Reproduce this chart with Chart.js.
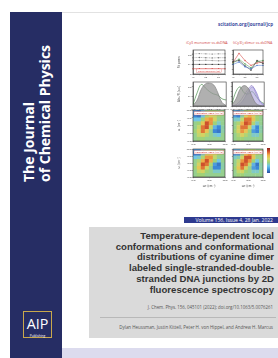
<!DOCTYPE html>
<html>
<head>
<meta charset="utf-8">
<script src="https://cdn.jsdelivr.net/npm/chart.js@4.4.1/dist/chart.umd.min.js"></script>
<style>
html, body { margin: 0; padding: 0; background: #fff; width: 278px; height: 358px; overflow: hidden; font-family: "Open Sans", Lato, sans-serif; }
.abs { position: absolute; }
.nw { white-space: nowrap; }
#topline { left: 10px; top: 12px; width: 268px; height: 1px; background: #e2e2e2; }
#band { left: 10px; top: 12px; width: 52px; height: 346px; background: #262d64; }
#jtitle { left: 21px; top: 182px; transform-origin: 0 0; transform: rotate(-90deg); color: #fff; font-weight: 700; font-size: 14px; line-height: 16px; }
#logo { left: 23px; top: 311px; width: 27px; height: 25px; border: 1px solid #c8a84c; background: #262d64; color: #fff; text-align: center; }
#logo .a { display: inline-block; font-size: 13px; line-height: 12px; margin-top: 6px; font-weight: 400; }
#logo .p { display: block; font-size: 3.2px; line-height: 4px; }
#strip { left: 62px; top: 348px; width: 216px; height: 10px; background: #dcdbee; }
#site { right: 5px; top: 21px; color: #3e4c9e; font-weight: 700; font-size: 6px; }
#gbox { left: 89px; top: 227px; width: 189px; height: 111px; background: #dadada; }
#vol { left: 184px; top: 217px; width: 94px; height: 6px; background: #2e3a8f; }
#voltxt { right: 5px; top: 217px; color: #fff; font-size: 4px; line-height: 6px; }
#title { right: 4px; top: 231px; text-align: right; color: #333; font-family: "Liberation Sans", Arial, sans-serif; font-weight: 700; font-size: 9.5px; line-height: 10.7px; }
#title span { display: inline-block; white-space: nowrap; height: 10.7px; }
#cite { right: 5px; top: 305px; color: #555; font-size: 4px; line-height: 5px; }
#sep { left: 100px; top: 317px; width: 176px; height: 1px; background: #b8b8b8; }
#auth { right: 5px; top: 325px; color: #555; font-size: 4px; line-height: 5px; }
.hd { top: 41px; color: #d04545; font-size: 3.6px; line-height: 4px; }
#cbar { left: 267px; top: 148px; width: 3px; height: 25px; background: linear-gradient(#8a1c1c, #d8552e, #f0b048, #d8d864, #9fd27a, #6cc6e8, #3c8fd8, #2b4fa0); }
canvas { position: absolute; }
canvas.hm { filter: blur(0.45px); }
</style>
</head>
<body>
<div id="topline" class="abs"></div>
<div id="band" class="abs"></div>
<div id="jtitle" class="abs nw"><span id="jt1">The Journal</span><br><span id="jt2">of Chemical Physics</span></div>
<div id="logo" class="abs"><span class="a" id="aip">AIP</span><span class="p">Publishing</span></div>
<div id="strip" class="abs"></div>
<div id="site" class="abs nw">scitation.org/journal/jcp</div>

<div class="abs nw hd" id="hd1" style="left:186px">iCy3 monomer ss-dsDNA</div>
<div class="abs nw hd" id="hd2" style="left:233px">(iCy3)₂ dimer ss-dsDNA</div>
<div id="cbar" class="abs"></div>

<div id="gbox" class="abs"></div>
<div id="vol" class="abs"></div>
<div id="voltxt" class="abs nw">Volume 156, Issue 4, 28 Jan. 2022</div>
<div id="title" class="abs">
  <span>Temperature-dependent local</span><br>
  <span id="tl2">conformations and conformational</span><br>
  <span>distributions of cyanine dimer</span><br>
  <span>labeled single-stranded-double-</span><br>
  <span>stranded DNA junctions by 2D</span><br>
  <span>fluorescence spectroscopy</span>
</div>
<div id="cite" class="abs nw">J. Chem. Phys. 156, 045101 (2022); doi.org/10.1063/5.0076261</div>
<div id="sep" class="abs"></div>
<div id="auth" class="abs nw">Dylan Heussman, Justin Kittell, Peter H. von Hippel, and Andrew H. Marcus</div>

<canvas id="c1" width="52" height="33" style="left:177px;top:46px"></canvas>
<canvas id="c2" width="38" height="33" style="left:229px;top:46px"></canvas>
<canvas id="c3" width="52" height="30" style="left:177px;top:80px"></canvas>
<canvas id="c4" width="38" height="30" style="left:229px;top:80px"></canvas>
<canvas id="c5" class="hm" width="52" height="39" style="left:177px;top:106px"></canvas>
<canvas id="c6" class="hm" width="38" height="39" style="left:229px;top:106px"></canvas>
<canvas id="c7" class="hm" width="52" height="43" style="left:177px;top:145px"></canvas>
<canvas id="c8" class="hm" width="38" height="43" style="left:229px;top:145px"></canvas>

<script>
// temperature axis of the top panels (°C)
const tempC = [15, 25, 35, 45, 55, 65];
// monomer fit parameters (normalised)
const monoA = [0.84, 0.85, 0.84, 0.83, 0.84, 0.84];
const monoB = [0.68, 0.69, 0.68, 0.67, 0.68, 0.68];
const monoC = [0.56, 0.56, 0.57, 0.56, 0.55, 0.56];
const monoD = [0.40, 0.40, 0.40, 0.40, 0.40, 0.40];
const monoLE = [0.22, 0.22, 0.22, 0.22, 0.22, 0.22];
// dimer fit parameters
const dimRed = [0.48, 0.86, 0.56, 0.36, 0.46, 0.50];
const dimGreen = [0.46, 0.62, 0.42, 0.26, 0.52, 0.56];
const dimDark = [0.52, 0.56, 0.34, 0.16, 0.56, 0.44];
const dimBlue = [0.40, 0.50, 0.30, 0.22, 0.36, 0.36];

// wavenumber axis of the spectra (10^3 cm-1)
const waveK = [16.5, 17.0, 17.5, 18.0, 18.5, 19.0, 19.5, 20.0, 20.5];
const monoAbs = [0.02, 0.25, 0.70, 0.92, 0.95, 0.88, 0.55, 0.15, 0.02];
const monoFl = [0.05, 0.55, 0.90, 0.75, 0.60, 0.50, 0.45, 0.30, 0.25];
const dimAbs = [0.05, 0.30, 0.70, 0.85, 0.75, 0.40, 0.10, 0.02, 0.00];
const dimLaser = [0.00, 0.00, 0.10, 0.30, 0.60, 0.80, 0.60, 0.20, 0.05];
const dimFl = [0.10, 0.60, 0.80, 0.55, 0.50, 0.60, 0.40, 0.20, 0.10];
const dimPurple = [0.00, 0.05, 0.20, 0.45, 0.70, 0.85, 0.50, 0.15, 0.02];

// 2D spectra grid (10^3 cm-1), rows listed top to bottom
const wTau = [17.0, 17.5, 18.0, 18.5, 19.0, 19.5, 20.0, 20.5];
const wT = [20.5, 20.0, 19.5, 19.0, 18.5, 18.0, 17.5, 17.0];
const mapNames = ['Absorptive 2DFS (15 °C)', 'Absorptive 2DFS (15 °C)', 'Absorptive 2DFS (45 °C)', 'Absorptive 2DFS (45 °C)'];
const mapMono15 = [
  [-0.5, -0.6, -0.3, 0.0, 0.1, 0.1, 0.0, 0.0],
  [-0.6, -0.7, -0.3, 0.2, 0.4, 0.3, 0.1, 0.0],
  [-0.3, -0.3, 0.1, 0.6, 0.7, 0.4, 0.0, 0.0],
  [0.0, 0.1, 0.5, 0.9, 0.7, 0.1, -0.2, 0.0],
  [0.0, 0.3, 0.8, 0.9, 0.3, -0.4, -0.6, -0.1],
  [0.1, 0.4, 0.8, 0.5, 0.0, -0.6, -0.7, -0.1],
  [0.0, 0.3, 0.4, 0.2, 0.0, -0.2, -0.3, 0.0],
  [0.0, 0.1, 0.1, 0.0, 0.0, 0.0, 0.0, 0.0]
];
const mapDim15 = [
  [-0.4, -0.5, -0.2, 0.1, 0.2, 0.1, 0.0, 0.0],
  [-0.5, -0.6, -0.1, 0.4, 0.6, 0.4, 0.1, 0.0],
  [-0.2, -0.2, 0.3, 0.8, 0.8, 0.5, 0.1, 0.0],
  [0.0, 0.2, 0.6, 0.9, 0.8, 0.2, -0.2, 0.0],
  [0.0, 0.4, 0.8, 0.8, 0.4, -0.3, -0.6, -0.1],
  [0.1, 0.4, 0.7, 0.5, 0.1, -0.5, -0.6, -0.1],
  [0.0, 0.2, 0.4, 0.2, 0.0, -0.2, -0.2, 0.0],
  [0.0, 0.1, 0.1, 0.0, 0.0, 0.0, 0.0, 0.0]
];
const mapMono45 = [
  [-0.5, -0.5, -0.2, 0.0, 0.1, 0.1, 0.0, 0.0],
  [-0.6, -0.6, -0.2, 0.3, 0.4, 0.3, 0.1, 0.0],
  [-0.3, -0.2, 0.2, 0.7, 0.7, 0.3, 0.0, 0.0],
  [0.0, 0.2, 0.6, 0.9, 0.6, 0.1, -0.3, 0.0],
  [0.0, 0.4, 0.9, 0.8, 0.2, -0.5, -0.7, -0.1],
  [0.1, 0.5, 0.8, 0.4, 0.0, -0.6, -0.6, -0.1],
  [0.0, 0.3, 0.4, 0.1, 0.0, -0.2, -0.2, 0.0],
  [0.0, 0.1, 0.1, 0.0, 0.0, 0.0, 0.0, 0.0]
];
const mapDim45 = [
  [-0.4, -0.4, -0.1, 0.1, 0.2, 0.2, 0.0, 0.0],
  [-0.5, -0.5, 0.0, 0.5, 0.7, 0.4, 0.1, 0.0],
  [-0.2, -0.1, 0.4, 0.9, 0.9, 0.5, 0.0, 0.0],
  [0.0, 0.3, 0.7, 0.9, 0.7, 0.1, -0.3, 0.0],
  [0.0, 0.4, 0.9, 0.8, 0.3, -0.4, -0.7, -0.1],
  [0.1, 0.5, 0.8, 0.4, 0.0, -0.5, -0.6, -0.1],
  [0.0, 0.3, 0.4, 0.1, 0.0, -0.2, -0.2, 0.0],
  [0.0, 0.1, 0.1, 0.0, 0.0, 0.0, 0.0, 0.0]
];

// colour map, value -1..1 (mostly green, orange core, red only at the top)
const cmap = [[-1, [40, 70, 150]], [-0.6, [60, 135, 215]], [-0.3, [115, 198, 230]], [-0.1, [140, 205, 165]], [0.1, [160, 210, 120]], [0.35, [205, 215, 105]], [0.55, [238, 190, 80]], [0.75, [232, 135, 60]], [0.9, [205, 80, 45]], [1, [150, 35, 30]]];
function colorOf(v) {
  for (let i = 1; i < cmap.length; i++) {
    if (v <= cmap[i][0]) {
      const a = cmap[i - 1], b = cmap[i];
      const t = (v - a[0]) / (b[0] - a[0]);
      const c = a[1].map((k, j) => Math.round(k + (b[1][j] - k) * t));
      return `rgb(${c[0]},${c[1]},${c[2]})`;
    }
  }
  return 'rgb(150,35,30)';
}

// frame round the plot area + optional label box inside it
Chart.register({
  id: 'frame',
  afterDraw(chart) {
    const a = chart.chartArea, ctx = chart.ctx;
    ctx.save();
    ctx.strokeStyle = '#333';
    ctx.lineWidth = 0.6;
    ctx.strokeRect(a.left, a.top, a.right - a.left, a.bottom - a.top);
    ctx.restore();
  }
});
Chart.register({
  id: 'panelLabel',
  defaults: { text: '' },
  afterDatasetsDraw(chart, args, opts) {
    if (!opts.text) return;
    const a = chart.chartArea, ctx = chart.ctx;
    ctx.save();
    ctx.font = '2.6px Lato, sans-serif';
    const w = ctx.measureText(opts.text).width + 2;
    const x = (a.left + a.right) / 2 - w / 2;
    const y = opts.bottom ? a.bottom - 5 : a.top + 1.5;
    ctx.fillStyle = '#fff';
    ctx.fillRect(x, y, w, 3.5);
    ctx.strokeStyle = opts.color || '#c33';
    ctx.lineWidth = 0.3;
    ctx.strokeRect(x, y, w, 3.5);
    ctx.fillStyle = opts.color || '#c33';
    ctx.textBaseline = 'middle';
    ctx.fillText(opts.text, x + 1, y + 1.9);
    ctx.restore();
  }
});

Chart.defaults.font.family = 'Lato, sans-serif';
Chart.defaults.font.size = 3;
Chart.defaults.color = '#555';

function axisX(h, title, opts) {
  return Object.assign({
    grid: { display: true, drawOnChartArea: false, tickLength: 1.2, color: '#333', lineWidth: 0.4 },
    border: { color: '#333', width: 0.6 },
    ticks: { padding: 0.3, maxRotation: 0, autoSkip: false, font: { size: 2.6 } },
    title: title ? { display: true, text: title, padding: 0.5, font: { size: 3.2 } } : { display: false },
    afterFit: s => { s.height = h; }
  }, opts || {});
}
function axisY(w, title, opts) {
  return Object.assign({
    grid: { display: true, drawOnChartArea: false, tickLength: 1.2, color: '#333', lineWidth: 0.4 },
    border: { color: '#333', width: 0.6 },
    ticks: { padding: 0.3, font: { size: 2.6 }, display: w > 6 },
    title: title ? { display: true, text: title, padding: 0.3, font: { size: 2.8 } } : { display: false },
    afterFit: s => { s.width = w; }
  }, opts || {});
}
function base(extra) {
  return Object.assign({
    responsive: false, animation: false, devicePixelRatio: 1,
    layout: { padding: { top: 2, right: 1, left: 0, bottom: 0 } },
    plugins: { legend: { display: false }, tooltip: { enabled: false } }
  }, extra);
}
function ln(data, color, width, dash) {
  return { data, borderColor: color, borderWidth: width, borderDash: dash || [], pointRadius: 0.7, pointBackgroundColor: color, pointBorderWidth: 0, tension: 0 };
}
function area(data, fillCol, lineCol) {
  return { data, borderColor: lineCol, borderWidth: 0.6, backgroundColor: fillCol, fill: 'origin', pointRadius: 0, tension: 0.4 };
}
const everyOther = function (v, i) { return i % 2 === 0 ? this.getLabelForValue(v) : ''; };

// row 1: fit parameters vs temperature
new Chart(document.getElementById('c1'), {
  type: 'line',
  data: { labels: tempC, datasets: [ln(monoA, '#888', 0.5, [1, 0.6]), ln(monoB, '#777', 0.5, [1, 0.6]), ln(monoC, '#999', 0.5), ln(monoD, '#333', 0.5), ln(monoLE, '#d9534f', 0.6)] },
  options: base({
    scales: { x: axisX(5, '', { ticks: { padding: 0.3, maxRotation: 0, autoSkip: false, font: { size: 2.6 }, callback: everyOther } }), y: axisY(16, 'Fit param.', { min: 0, max: 1 }) },
    plugins: { legend: { display: false }, tooltip: { enabled: false }, panelLabel: { text: 'Linear Emission (LE)', bottom: true, color: '#d9534f' } }
  })
});
new Chart(document.getElementById('c2'), {
  type: 'line',
  data: { labels: tempC, datasets: [ln(dimBlue, '#3d6fc8', 0.5), ln(dimDark, '#333', 0.5), ln(dimGreen, '#4a9a4a', 0.5), ln(dimRed, '#d9534f', 0.6)] },
  options: base({ scales: { x: axisX(5, '', { ticks: { padding: 0.3, maxRotation: 0, autoSkip: false, font: { size: 2.6 }, callback: everyOther } }), y: axisY(3, '', { min: 0, max: 1 }) } })
});

// row 2: linear spectra
new Chart(document.getElementById('c3'), {
  type: 'line',
  data: { labels: waveK, datasets: [area(monoAbs, 'rgba(150,150,150,0.75)', '#777'), { data: monoFl, borderColor: '#2f7d32', borderWidth: 0.6, pointRadius: 0, fill: false, tension: 0.4 }] },
  options: base({ scales: { x: axisX(4, '', { ticks: { padding: 0.3, maxRotation: 0, autoSkip: false, font: { size: 2.6 }, callback: everyOther } }), y: axisY(16, 'Abs./Fl. (a.u.)', { min: 0, max: 1 }) } })
});
new Chart(document.getElementById('c4'), {
  type: 'line',
  data: { labels: waveK, datasets: [area(dimAbs, 'rgba(150,150,150,0.75)', '#777'), area(dimLaser, 'rgba(170,160,220,0.6)', '#8a7fd0'), { data: dimPurple, borderColor: '#6a4fb0', borderWidth: 0.5, pointRadius: 0, fill: false, tension: 0.4 }, { data: dimFl, borderColor: '#2f7d32', borderWidth: 0.6, pointRadius: 0, fill: false, tension: 0.4 }] },
  options: base({ scales: { x: axisX(4, '', { ticks: { padding: 0.3, maxRotation: 0, autoSkip: false, font: { size: 2.6 }, callback: everyOther } }), y: axisY(3, '', { min: 0, max: 1 }) } })
});

// rows 3-4: 2D spectra
function heat(id, grid, label, left, bottom) {
  const pts = [], cols = [];
  grid.forEach((row, r) => row.forEach((v, c) => { pts.push({ x: wTau[c], y: wT[r] }); cols.push(colorOf(v)); }));
  new Chart(document.getElementById(id), {
    type: 'scatter',
    data: { datasets: [{ data: pts, pointStyle: 'rect', pointBackgroundColor: cols, pointBorderWidth: 0, clip: 0,
      pointRadius: ctx => { const a = ctx.chart.chartArea; return a ? Math.max(a.right - a.left, a.bottom - a.top) / 8 / 1.414 * 1.1 : 2; } }] },
    options: base({
      scales: {
        x: axisX(bottom ? 11 : 4, bottom ? 'ωτ (cm⁻¹)' : '', { type: 'linear', min: 16.75, max: 20.75, ticks: { stepSize: 1, padding: 0.3, maxRotation: 0, font: { size: 2.6 } } }),
        y: axisY(left ? 16 : 3, left ? 'ωₜ (cm⁻¹)' : '', { type: 'linear', min: 16.75, max: 20.75, ticks: { stepSize: 1, padding: 0.3, font: { size: 2.6 }, display: left } })
      },
      plugins: { legend: { display: false }, tooltip: { enabled: false }, panelLabel: { text: label, color: '#c33' } }
    })
  });
}
heat('c5', mapMono15, mapNames[0], true, false);
heat('c6', mapDim15, mapNames[1], false, false);
heat('c7', mapMono45, mapNames[2], true, true);
heat('c8', mapDim45, mapNames[3], false, true);

// size the cover texts to their widths on the reference
function fit(el, target) {
  const s = parseFloat(getComputedStyle(el).fontSize);
  const w = el.offsetWidth;
  if (w > 0) el.style.fontSize = (s * target / w) + 'px';
}
function layoutText() {
  fit(document.getElementById('jt2'), 137);
  document.getElementById('jtitle').style.fontSize = document.getElementById('jt2').style.fontSize;
  document.getElementById('jt2').style.fontSize = '';
  const t = document.getElementById('title');
  const l2 = document.getElementById('tl2');
  const s = parseFloat(getComputedStyle(t).fontSize);
  t.style.fontSize = Math.min(9.6, s * 180 / l2.offsetWidth) + 'px';
  fit(document.getElementById('site'), 55);
  fit(document.getElementById('voltxt'), 78);
  fit(document.getElementById('cite'), 126);
  fit(document.getElementById('auth'), 154);
  fit(document.getElementById('hd1'), 42);
  fit(document.getElementById('hd2'), 39);
  fit(document.getElementById('aip'), 22);
}
layoutText();
</script>
</body>
</html>
